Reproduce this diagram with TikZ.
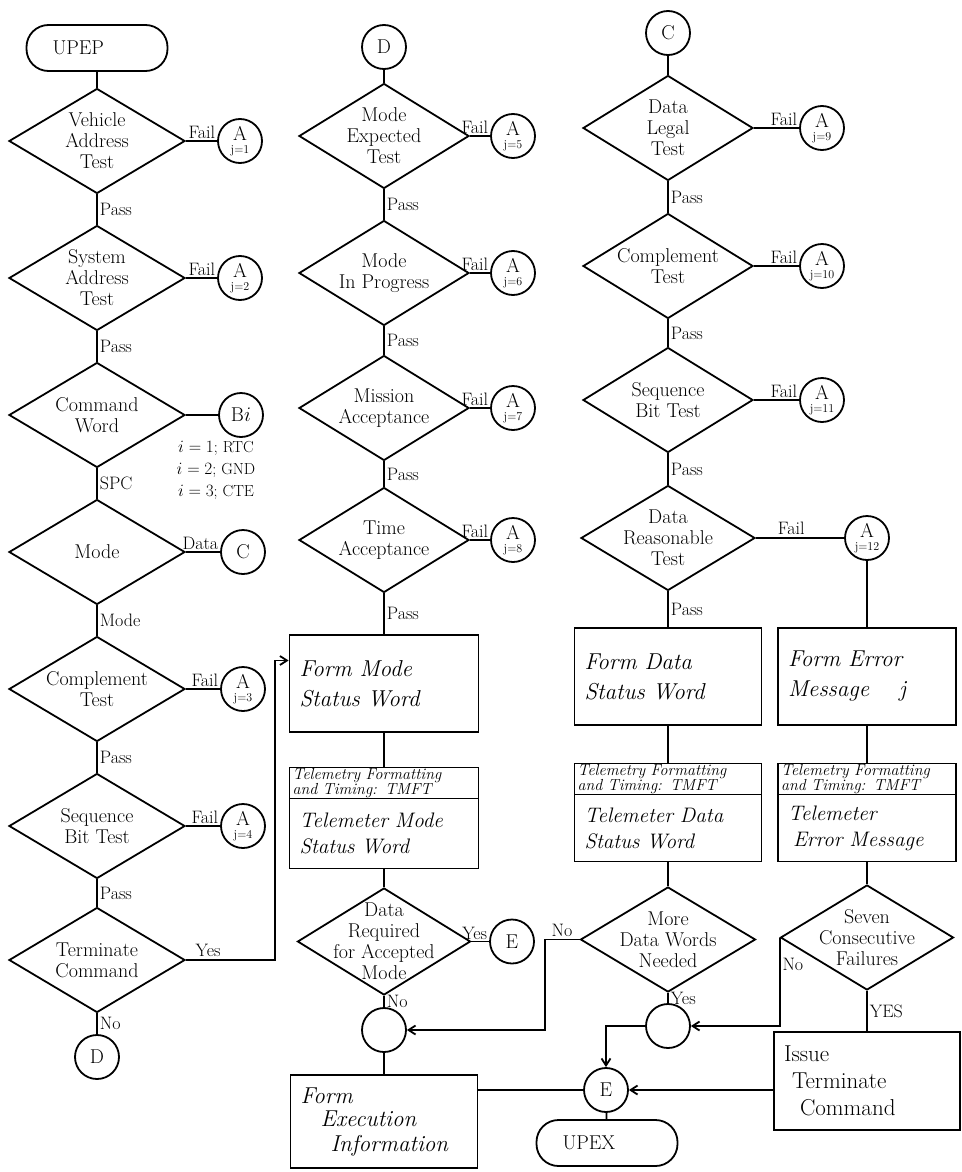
\documentclass[tikz,border=0pt]{standalone}
\usepackage{fontspec}
\usetikzlibrary{shapes.geometric,arrows.meta}

% A connector with its error number under the letter
\newcommand{\failA}[1]{A\\[-1pt]{\fontsize{12}{12}\selectfont j=#1}}

\begin{document}
\begin{tikzpicture}[x=1pt,y=-1pt,line width=1.8pt,
  >={Straight Barb[length=7pt,width=9pt]},
  test/.style={draw,diamond,minimum width=176pt,minimum height=105pt,inner sep=0pt,
    label={[font=\fontsize{20}{21}\selectfont,align=center]center:#1}},
  conn/.style={draw,circle,minimum size=44pt,inner sep=0pt,align=center,
    font=\fontsize{20}{20}\selectfont},
  errA/.style={conn,font=\fontsize{20}{14}\selectfont},
  term/.style={draw,rounded corners=22pt,minimum height=46pt,text width=89pt,
    inner xsep=26pt,align=left,font=\fontsize{20}{20}\selectfont},
  proc/.style={draw,rectangle,align=left,inner xsep=10pt,
    font=\itshape\fontsize{23}{30}\selectfont},
  body/.style={proc,font=\itshape\fontsize{21}{26}\selectfont},
  hdr/.style={draw,rectangle,align=left,inner xsep=3pt,inner ysep=0pt,
    minimum height=31pt,font=\itshape\fontsize{16}{13.5}\selectfont},
  lab/.style={font=\fontsize{18}{18}\selectfont,inner sep=2pt},
  fl/.style={lab,above left,pos=1,inner sep=1pt}]
\useasboundingbox (0,0) rectangle (961,1172);

% command checks
\node[term] (upep) at (97,48) {UPEP};
\node[test={Vehicle\\Address\\Test}] (vat) at (97,141) {};
\node[test={System\\Address\\Test}] (sat) at (97,278) {};
\node[test={Command\\Word}] (cw) at (97,415) {};
\node[test={Mode}] (md) at (97,552) {};
\node[test={Complement\\Test}] (ct) at (97,689) {};
\node[test={Sequence\\Bit Test}] (sbt) at (97,826) {};
\node[test={Terminate\\Command}] (tc) at (97,960) {};
\node[conn] (d1) at (97,1057) {D};

\node[errA] (a1) at (240,141) {\failA{1}};
\node[errA] (a2) at (240,278) {\failA{2}};
\node[conn] (bi) at (241,415) {B$i$};
\node[font=\fontsize{16}{22}\selectfont,align=center] (inote) at (216,470)
  {$i=1$; RTC\\$i=2$; GND\\$i=3$; CTE};
\node[conn] (c1) at (243,552) {C};
\node[errA] (a3) at (243,689) {\failA{3}};
\node[errA] (a4) at (243,826) {\failA{4}};

\draw (upep) -- (vat);
\draw (vat) -- node[fl]{Fail} (a1);
\draw (vat) -- node[lab,right]{Pass} (sat);
\draw (sat) -- node[fl]{Fail} (a2);
\draw (sat) -- node[lab,right]{Pass} (cw);
\draw (cw) -- (bi);
\draw (cw) -- node[lab,right]{SPC} (md);
\draw (md) -- node[fl]{Data} (c1);
\draw (md) -- node[lab,right]{Mode} (ct);
\draw (ct) -- node[fl]{Fail} (a3);
\draw (ct) -- node[lab,right]{Pass} (sbt);
\draw (sbt) -- node[fl]{Fail} (a4);
\draw (sbt) -- node[lab,right]{Pass} (tc);
\draw (tc) -- node[lab,right]{No} (d1);

% mode checks
\node[conn] (d2) at (384,47) {D};
\node[test={Mode\\Expected\\Test},minimum width=170pt] (met) at (384,136) {};
\node[test={Mode\\In Progress},minimum width=170pt] (mip) at (384,273) {};
\node[test={Mission\\Acceptance},minimum width=170pt] (ma) at (384,408) {};
\node[test={Time\\Acceptance},minimum width=170pt] (ta) at (384,540) {};
\node[errA] (a5) at (513,136) {\failA{5}};
\node[errA] (a6) at (513,273) {\failA{6}};
\node[errA] (a7) at (513,408) {\failA{7}};
\node[errA] (a8) at (513,540) {\failA{8}};
\node[proc,text width=169pt,minimum height=97pt] (fmsw) at (384,683.5) {Form Mode\\Status Word};
\node[hdr,text width=183pt] (tmft1) at (384,783) {Telemetry Formatting\\and Timing: TMFT};
\node[body,text width=169pt,minimum height=70pt] (tmms) at (384,833.5) {Telemeter Mode\\Status Word};
\node[test={Data\\Required\\for Accepted\\Mode},minimum width=173pt,minimum height=107pt] (drm) at (384,941.5) {};
\node[conn] (e1) at (512,941.5) {E};
\node[conn] (j1) at (384,1030) {};
\node[proc,text width=167pt,minimum height=93pt,font=\itshape\fontsize{23}{24}\selectfont] (fei)
  at (384,1121.5) {Form\\\hspace*{20pt}Execution\\\hspace*{30pt}Information};

\draw (d2) -- (met);
\draw (met) -- node[fl]{Fail} (a5);
\draw (met) -- node[lab,right]{Pass} (mip);
\draw (mip) -- node[fl]{Fail} (a6);
\draw (mip) -- node[lab,right]{Pass} (ma);
\draw (ma) -- node[fl]{Fail} (a7);
\draw (ma) -- node[lab,right]{Pass} (ta);
\draw (ta) -- node[fl]{Fail} (a8);
\draw (ta) -- node[lab,right]{Pass} (fmsw);
\draw (fmsw) -- (tmft1);
\draw (tmms) -- (drm);
\draw (drm) -- node[fl]{Yes} (e1);
\draw (drm) -- node[lab,right]{No} (j1);
\draw (j1) -- (fei);
\draw[->] (tc.east) -- node[lab,above,pos=0.25]{Yes} ++(89,0) |- ([yshift=23pt]fmsw.west);

% data checks
\node[conn] (c2) at (668,33) {C};
\node[test={Data\\Legal\\Test},minimum width=170pt] (dlt) at (668,128) {};
\node[test={Complement\\Test},minimum width=170pt] (ct2) at (668,266) {};
\node[test={Sequence\\Bit Test},minimum width=170pt] (sbt2) at (668,400) {};
\node[test={Data\\Reasonable\\Test},minimum width=174pt] (drt) at (668,538) {};
\node[errA] (a9) at (822,128) {\failA{9}};
\node[errA] (a10) at (822,266) {\failA{10}};
\node[errA] (a11) at (822,400) {\failA{11}};
\node[errA] (a12) at (867,538) {\failA{12}};
\node[proc,text width=167pt,minimum height=97pt] (fdsw) at (668,676.5) {Form Data\\Status Word};
\node[hdr,text width=181pt] (tmft2) at (668,779) {Telemetry Formatting\\and Timing: TMFT};
\node[body,text width=167pt,minimum height=67pt] (tmds) at (668,828) {Telemeter Data\\Status Word};
\node[test={More\\Data Words\\Needed},minimum width=175pt] (mdw) at (668,939.5) {};
\node[conn] (j2) at (668,1026) {};
\node[conn] (e2) at (606,1090) {E};
\node[term] (upex) at (607,1143) {UPEX};

\draw (c2) -- (dlt);
\draw (dlt) -- node[fl]{Fail} (a9);
\draw (dlt) -- node[lab,right]{Pass} (ct2);
\draw (ct2) -- node[fl]{Fail} (a10);
\draw (ct2) -- node[lab,right]{Pass} (sbt2);
\draw (sbt2) -- node[fl]{Fail} (a11);
\draw (sbt2) -- node[lab,right]{Pass} (drt);
\draw (drt) -- node[lab,above,pos=0.4]{Fail} (a12);
\draw (drt) -- node[lab,right]{Pass} (fdsw);
\draw (fdsw) -- (tmft2);
\draw (tmds) -- (mdw);
\draw[->] (mdw.west) -- node[lab,above]{No} ++(-35,0) |- (j1);
\draw (mdw) -- node[lab,right]{Yes} (j2);
\draw[->] (j2) -| (e2);
\draw (fei.east |- e2) -- (e2);
\draw (e2) -- (upex);

% error message
\node[proc,text width=158pt,minimum height=97pt] (fem) at (867,676.5) {Form Error\\Message\hspace{30pt}j};
\node[hdr,text width=172pt] (tmft3) at (867,779) {Telemetry Formatting\\and Timing: TMFT};
\node[body,text width=158pt,minimum height=67pt] (tmes) at (867,828) {Telemeter\\\hspace*{5pt}Error Message};
\node[test={Seven\\Consecutive\\Failures},minimum width=173pt] (scf) at (867,937.5) {};
\node[proc,text width=166pt,minimum height=98pt,font=\fontsize{23}{27}\selectfont] (itc)
  at (867,1081) {Issue\\\hspace*{8pt}Terminate\\\hspace*{16pt}Command};

\draw (a12) -- (fem);
\draw (fem) -- (tmft3);
\draw (tmes) -- (scf);
\draw[->] (scf.west) |- node[lab,right,pos=0.15]{No} (j2);
\draw (scf) -- node[lab,right]{YES} (itc);
\draw[->] (itc.west |- e2) -- (e2);
\end{tikzpicture}
\end{document}
